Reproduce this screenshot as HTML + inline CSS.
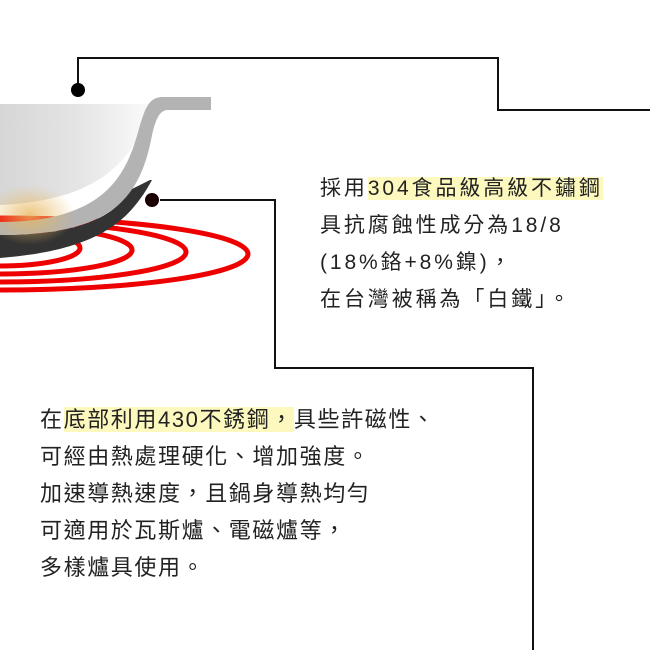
<!DOCTYPE html>
<html><head><meta charset="utf-8"><style>
html,body{margin:0;padding:0;background:#fff;}
body{width:650px;height:650px;position:relative;overflow:hidden;font-family:"Liberation Sans","Noto Sans CJK TC",sans-serif;color:#222;}
.t{position:absolute;white-space:nowrap;}
.b1{left:320px;top:170px;font-size:21px;letter-spacing:2.9px;line-height:37px;}
.b2{left:40px;top:401px;font-size:22px;letter-spacing:1.6px;line-height:37px;}
.hl{background:#fdf9be;}
</style></head><body>
<svg width="650" height="650" style="position:absolute;left:0;top:0">
<defs>
<linearGradient id="bowl" x1="0" x2="1" y1="0" y2="0">
<stop offset="0" stop-color="#d6d6d6"/><stop offset="0.5" stop-color="#e4e4e4"/><stop offset="1" stop-color="#fafafa"/>
</linearGradient>
<radialGradient id="flame" cx="0.5" cy="0.5" r="0.5">
<stop offset="0" stop-color="#e8b860" stop-opacity="0.8"/><stop offset="1" stop-color="#e8b860" stop-opacity="0"/>
</radialGradient>
</defs>
<g fill="none" stroke="#e00" stroke-width="5">
<ellipse cx="0" cy="254" rx="248" ry="36"/>
<ellipse cx="0" cy="252" rx="186" ry="30"/>
<ellipse cx="0" cy="250" rx="132" ry="24"/>
<ellipse cx="0" cy="248" rx="80" ry="18"/>
</g>
<path d="M0 235 C60 235 110 225 130 190 L150 180 L152 180 C130 220 100 250 0 258 Z" fill="#333"/>
<path d="M0 104 L150 104 C140 140 120 200 0 205 Z" fill="url(#bowl)"/>
<path d="M211 97 L163 97 C148 97 145 110 140 125 C128 170 110 222 0 222 L0 235 C110 235 140 200 152 135 C156 118 160 110 168 110 L211 110 Z" fill="#b3b3b3"/>
<ellipse cx="30" cy="215" rx="45" ry="30" fill="url(#flame)"/>
<g fill="none" stroke="#111" stroke-width="2">
<polyline points="78,90 78,58 498,58 498,110 650,110"/>
<polyline points="160,200 275,200 275,368 533,368 533,650"/>
</g>
<circle cx="78" cy="90" r="7" fill="#000"/>
<circle cx="152" cy="200" r="7" fill="#1a0000"/>
</svg>
<div class="t b1">採用<span class="hl">304食品級高級不鏽鋼</span><br>具抗腐蝕性成分為18/8<br>(18%鉻+8%鎳)，<br>在台灣被稱為「白鐵」。</div>
<div class="t b2">在<span class="hl">底部利用430不銹鋼，</span>具些許磁性、<br>可經由熱處理硬化、增加強度。<br>加速導熱速度，且鍋身導熱均勻<br>可適用於瓦斯爐、電磁爐等，<br>多樣爐具使用。</div>
</body></html>
